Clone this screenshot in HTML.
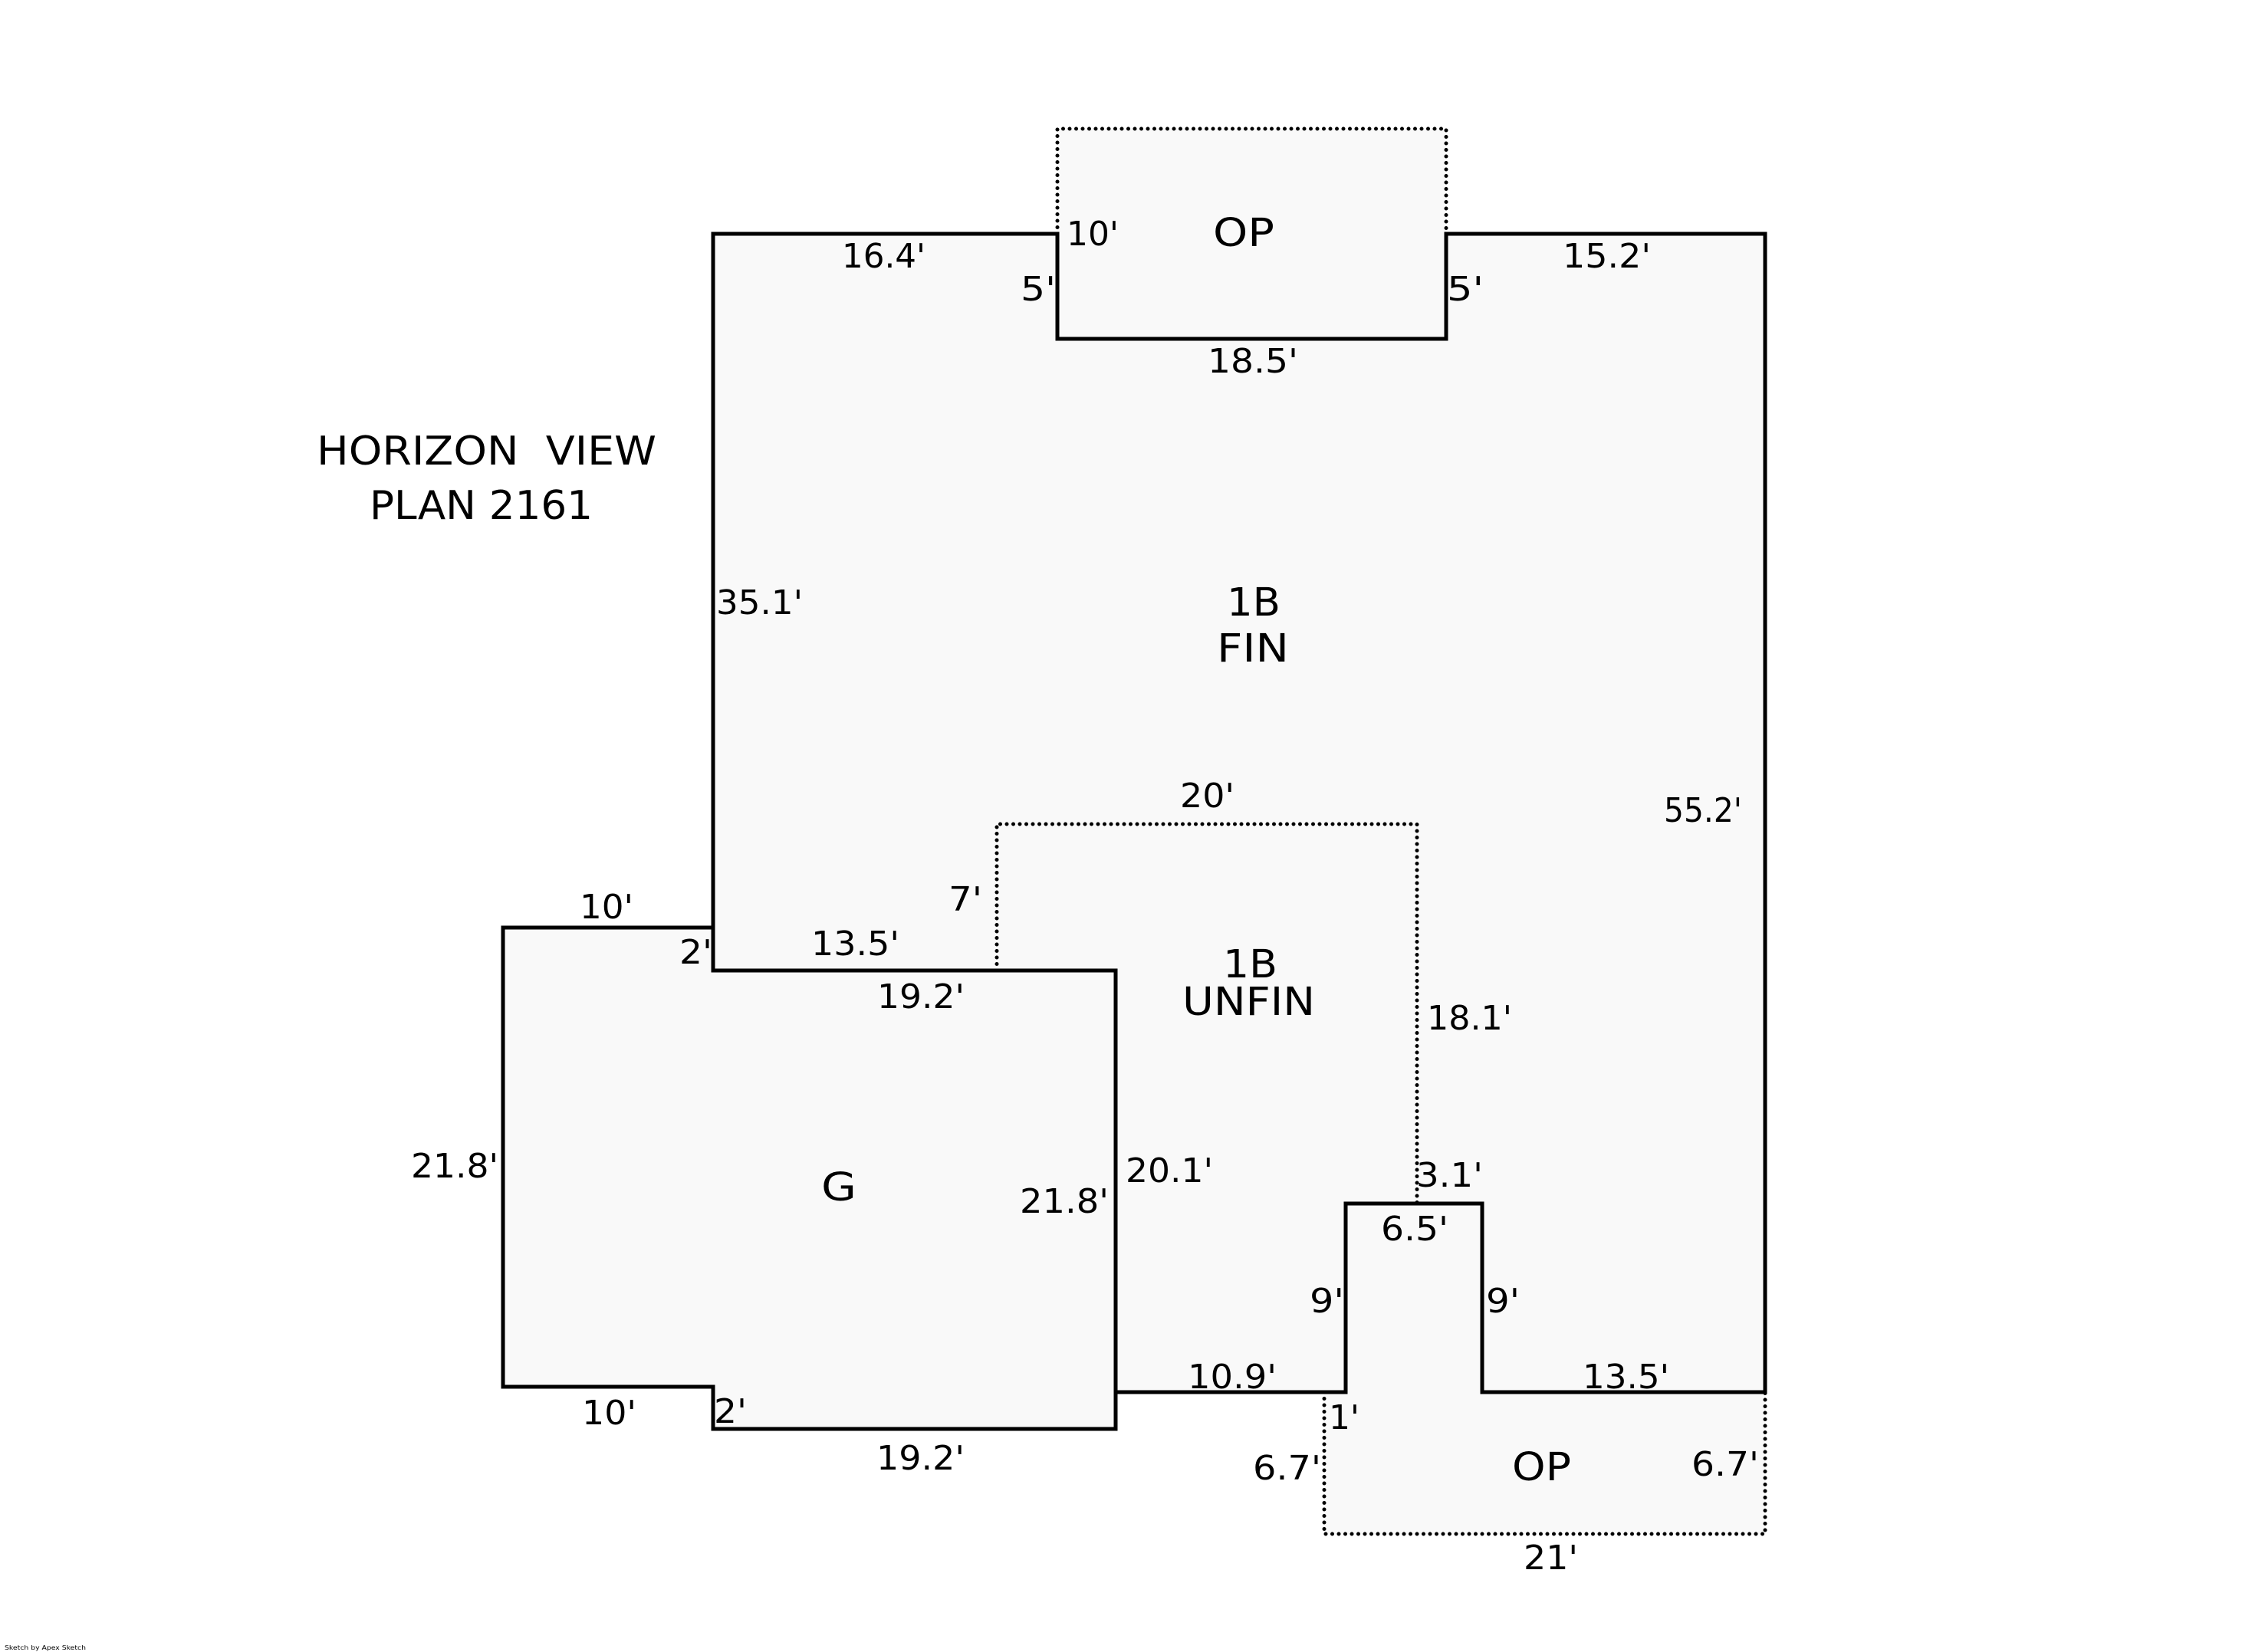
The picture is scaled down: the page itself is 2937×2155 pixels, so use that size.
<!DOCTYPE html>
<html>
<head>
<meta charset="utf-8">
<style>
  html,body{margin:0;padding:0;background:#fff;}
  body{width:2937px;height:2155px;overflow:hidden;}
  svg{display:block;}
  text{font-family:"DejaVu Sans","Liberation Sans",sans-serif;fill:#000;}
  .d{font-size:44px;}
  .r{font-size:51px;}
  .t{font-size:52px;}
</style>
</head>
<body>
<svg width="2937" height="2155" viewBox="0 0 2937 2155" xmlns="http://www.w3.org/2000/svg">
  <rect x="0" y="0" width="2937" height="2155" fill="#ffffff"/>

  <!-- fills -->
  <g fill="#f9f9f9" stroke="none">
    <rect x="1379" y="168" width="507" height="274"/>
    <path d="M930,305 L1379,305 L1379,442 L1886,442 L1886,305 L2302,305 L2302,1816 L1933,1816 L1933,1570 L1755,1570 L1755,1816 L1455,1816 L1455,1266 L930,1266 Z"/>
    <path d="M930,1266 L930,1210 L656,1210 L656,1809 L930,1809 L930,1864 L1455,1864 L1455,1266 Z"/>
    <path d="M1727,1816 L1755,1816 L1755,1570 L1933,1570 L1933,1816 L2302,1816 L2302,2001 L1727,2001 Z"/>
  </g>

  <!-- dotted lines -->
  <g fill="none" stroke="#000" stroke-width="5" stroke-linecap="round" stroke-dasharray="0 8.5">
    <path d="M1379,305 L1379,168 L1886,168 L1886,305"/>
    <path d="M1300,1266 L1300,1075 L1848,1075 L1848,1570"/>
    <path d="M1727,1816 L1727,2001 L2302,2001 L2302,1816"/>
  </g>

  <!-- solid walls -->
  <g fill="none" stroke="#000" stroke-width="5" stroke-linejoin="miter" stroke-linecap="square">
    <path d="M1455,1266 L930,1266 L930,305 L1379,305 L1379,442 L1886,442 L1886,305 L2302,305 L2302,1816 L1933,1816 L1933,1570 L1755,1570 L1755,1816 L1455,1816"/>
    <path d="M930,1266 L930,1210 L656,1210 L656,1809 L930,1809 L930,1864 L1455,1864 L1455,1266"/>
  </g>

  <!-- title -->
  <text class="t" x="413" y="606" textLength="443" lengthAdjust="spacingAndGlyphs" xml:space="preserve">HORIZON  VIEW</text>
  <text class="t" x="482" y="677" textLength="291" lengthAdjust="spacingAndGlyphs">PLAN 2161</text>

  <!-- room labels -->
  <text class="r" x="1582" y="321" textLength="80" lengthAdjust="spacingAndGlyphs">OP</text>
  <text class="r" x="1600" y="803" textLength="70" lengthAdjust="spacingAndGlyphs">1B</text>
  <text class="r" x="1587" y="863" textLength="94" lengthAdjust="spacingAndGlyphs">FIN</text>
  <text class="r" x="1595" y="1275" textLength="71" lengthAdjust="spacingAndGlyphs">1B</text>
  <text class="r" x="1542" y="1324" textLength="173" lengthAdjust="spacingAndGlyphs">UNFIN</text>
  <text class="r" x="1071" y="1566" textLength="46" lengthAdjust="spacingAndGlyphs">G</text>
  <text class="r" x="1972" y="1931" textLength="77" lengthAdjust="spacingAndGlyphs">OP</text>

  <!-- dimension labels -->
  <text class="d" x="1391" y="320" textLength="68" lengthAdjust="spacingAndGlyphs">10'</text>
  <text class="d" x="1098" y="349" textLength="109" lengthAdjust="spacingAndGlyphs">16.4'</text>
  <text class="d" x="2038" y="349" textLength="115" lengthAdjust="spacingAndGlyphs">15.2'</text>
  <text class="d" x="1331" y="392" textLength="46" lengthAdjust="spacingAndGlyphs">5'</text>
  <text class="d" x="1887" y="392" textLength="48" lengthAdjust="spacingAndGlyphs">5'</text>
  <text class="d" x="1575" y="486" textLength="118" lengthAdjust="spacingAndGlyphs">18.5'</text>
  <text class="d" x="934" y="801" textLength="113" lengthAdjust="spacingAndGlyphs">35.1'</text>
  <text class="d" x="1539" y="1053" textLength="71" lengthAdjust="spacingAndGlyphs">20'</text>
  <text class="d" x="2170" y="1072" textLength="102" lengthAdjust="spacingAndGlyphs">55.2'</text>
  <text class="d" x="756" y="1198" textLength="70" lengthAdjust="spacingAndGlyphs">10'</text>
  <text class="d" x="1237" y="1188" textLength="44" lengthAdjust="spacingAndGlyphs">7'</text>
  <text class="d" x="886" y="1257" textLength="43" lengthAdjust="spacingAndGlyphs">2'</text>
  <text class="d" x="1058" y="1246" textLength="115" lengthAdjust="spacingAndGlyphs">13.5'</text>
  <text class="d" x="1144" y="1315" textLength="114" lengthAdjust="spacingAndGlyphs">19.2'</text>
  <text class="d" x="1861" y="1343" textLength="111" lengthAdjust="spacingAndGlyphs">18.1'</text>
  <text class="d" x="536" y="1536" textLength="114" lengthAdjust="spacingAndGlyphs">21.8'</text>
  <text class="d" x="1330" y="1582" textLength="116" lengthAdjust="spacingAndGlyphs">21.8'</text>
  <text class="d" x="1468" y="1542" textLength="114" lengthAdjust="spacingAndGlyphs">20.1'</text>
  <text class="d" x="1847" y="1548" textLength="87" lengthAdjust="spacingAndGlyphs">3.1'</text>
  <text class="d" x="1801" y="1618" textLength="88" lengthAdjust="spacingAndGlyphs">6.5'</text>
  <text class="d" x="1708" y="1712" textLength="45" lengthAdjust="spacingAndGlyphs">9'</text>
  <text class="d" x="1938" y="1712" textLength="44" lengthAdjust="spacingAndGlyphs">9'</text>
  <text class="d" x="1549" y="1811" textLength="116" lengthAdjust="spacingAndGlyphs">10.9'</text>
  <text class="d" x="2064" y="1811" textLength="113" lengthAdjust="spacingAndGlyphs">13.5'</text>
  <text class="d" x="759" y="1858" textLength="71" lengthAdjust="spacingAndGlyphs">10'</text>
  <text class="d" x="931" y="1856" textLength="43" lengthAdjust="spacingAndGlyphs">2'</text>
  <text class="d" x="1143" y="1917" textLength="115" lengthAdjust="spacingAndGlyphs">19.2'</text>
  <text class="d" x="1733" y="1864" textLength="40" lengthAdjust="spacingAndGlyphs">1'</text>
  <text class="d" x="1634" y="1930" textLength="89" lengthAdjust="spacingAndGlyphs">6.7'</text>
  <text class="d" x="2206" y="1925" textLength="88" lengthAdjust="spacingAndGlyphs">6.7'</text>
  <text class="d" x="1987" y="2047" textLength="71" lengthAdjust="spacingAndGlyphs">21'</text>

  <!-- footer -->
  <text x="6" y="2152" font-size="8" textLength="106" lengthAdjust="spacingAndGlyphs">Sketch by Apex Sketch</text>
</svg>
</body>
</html>
